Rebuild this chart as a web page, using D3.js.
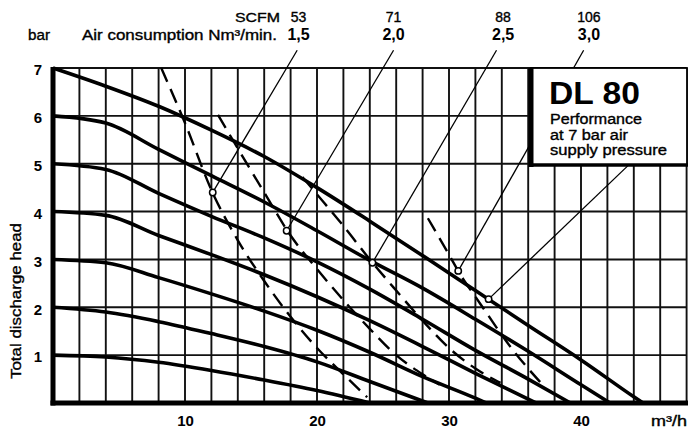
<!DOCTYPE html>
<html>
<head>
<meta charset="utf-8">
<script src="https://cdn.jsdelivr.net/npm/d3@7"></script>
<style>
  body { margin: 0; background: #fff; }
  svg { display: block; font-family: "Liberation Sans", Arial, Helvetica, sans-serif; }
  .med { stroke: #000; stroke-width: 0.35; }
</style>
</head>
<body>
<div id="chart"></div>
<script>
// flow steps (m3/h) the head curves are sampled on
const flowSteps = [0, 4, 8, 12, 16, 20, 24, 28, 32, 36, 40, 44];

// total discharge head (bar) per outlet pressure curve
const head1 = [1, 0.96, 0.85, 0.68, 0.48, 0.26];
const head2 = [2, 1.9, 1.7, 1.45, 1.18, 0.86, 0.45];
const head3 = [3, 2.93, 2.62, 2.28, 1.92, 1.52, 1.06, 0.55, 0.1];
const head4 = [4, 3.92, 3.5, 3.1, 2.68, 2.22, 1.72, 1.18, 0.62, 0.08];
const head5 = [5, 4.88, 4.38, 3.9, 3.45, 2.95, 2.38, 1.75, 1.1, 0.5];
const head6 = [6, 5.85, 5.3, 4.75, 4.2, 3.6, 2.98, 2.4, 1.75, 1.08, 0.38];
const head7 = [7, 6.62, 6.2, 5.7, 5.15, 4.5, 3.8, 3.08, 2.35, 1.62, 0.9, 0.13];
// flow where each curve hits zero head
const zeroFlow = [24, 28.4, 32.8, 36.6, 39.2, 42.2, 44.7];

// air consumption lines (dashed)
const air15Flow = [8.2, 10, 12, 14, 16, 18, 20, 22, 23.8];
const air15Head = [7.0, 5.85, 4.45, 3.4, 2.55, 1.8, 1.15, 0.6, 0.12];
const air20Flow = [12.5, 14, 16, 18, 20, 22, 24, 26, 28, 29.3];
const air20Head = [6.02, 5.32, 4.4, 3.5, 2.8, 2.15, 1.55, 1.0, 0.6, 0.38];
const air25Flow = [18.9, 20, 22, 24, 26, 28, 30, 32, 33.9];
const air25Head = [4.72, 4.36, 3.7, 3.0, 2.35, 1.72, 1.15, 0.72, 0.42];
const air30Flow = [28.4, 30, 31, 32, 33, 34, 35, 36, 36.9];
const air30Head = [3.86, 3.1, 2.62, 2.22, 1.82, 1.42, 1.05, 0.72, 0.44];

const airNm3 = ["1,5", "2,0", "2,5", "3,0"];
const airScfm = ["53", "71", "88", "106"];
const labelFlow = [18.6, 25.8, 34.1, 40.6];
// marker circles on the air lines and top of their leader lines
const markFlow = [12.1, 17.7, 24.2, 30.7];
const markHead = [4.4, 3.6, 2.93, 2.76];
const leaderFlow = [18.5, 25.8, 33.6, 40.2];
const leaderHead = 7.37;
// marker on the 7 bar curve, leader to the DL 80 box
const boxMark = [33, 2.17];
const boxLeader = [43.6, 4.97];

const yTicks = [1, 2, 3, 4, 5, 6, 7];
const xTicks = [10, 20, 30, 40];

const width = 688, height = 431;
const svg = d3.select("#chart").append("svg")
  .attr("width", width).attr("height", height);

const x = d3.scaleLinear().domain([0, 48]).range([53, 686.6]);
const y = d3.scaleLinear().domain([0, 7]).range([403, 68]);

// grid
svg.append("g").selectAll("line")
  .data(d3.range(2, 49, 2))
  .join("line")
    .attr("x1", d => x(d)).attr("x2", d => x(d))
    .attr("y1", y(7)).attr("y2", y(0))
    .attr("stroke", "#111").attr("stroke-width", 1.9);
svg.append("g").selectAll("line")
  .data(yTicks)
  .join("line")
    .attr("x1", x(0)).attr("x2", x(48))
    .attr("y1", d => y(d)).attr("y2", d => y(d))
    .attr("stroke", "#111").attr("stroke-width", 1.9);

// axes lines
svg.append("line").attr("x1", x(0)).attr("x2", x(0)).attr("y1", y(7) - 1).attr("y2", y(0) + 2.5)
  .attr("stroke", "#000").attr("stroke-width", 5);
svg.append("line").attr("x1", x(0) - 2.5).attr("x2", width).attr("y1", y(0)).attr("y2", y(0))
  .attr("stroke", "#000").attr("stroke-width", 5);

const yAxis = svg.append("g").attr("transform", `translate(${x(0)},0)`)
  .call(d3.axisLeft(y).tickValues(yTicks).tickFormat(d3.format("d")).tickSize(0).tickPadding(11));
yAxis.select(".domain").remove();
yAxis.selectAll("text").attr("font-size", 15).attr("font-weight", "bold")
  .attr("font-family", null).attr("dy", "0.45em").attr("fill", "#000");

const xAxis = svg.append("g").attr("transform", `translate(0,${y(0)})`)
  .call(d3.axisBottom(x).tickValues(xTicks).tickFormat(d3.format("d")).tickSize(0).tickPadding(12));
xAxis.select(".domain").remove();
xAxis.selectAll("text").attr("font-size", 15).attr("font-weight", "bold")
  .attr("font-family", null).attr("fill", "#000");

// head curves
const line = d3.line().x(d => x(d[0])).y(d => y(d[1])).curve(d3.curveMonotoneX);
const heads = [head1, head2, head3, head4, head5, head6, head7];
heads.forEach((h, i) => {
  const pts = h.map((v, j) => [flowSteps[j], v]);
  pts.push([zeroFlow[i], 0]);
  svg.append("path").attr("d", line(pts))
    .attr("fill", "none").attr("stroke", "#000").attr("stroke-width", 3.6);
});

// air consumption lines
const airFlows = [air15Flow, air20Flow, air25Flow, air30Flow];
const airHeads = [air15Head, air20Head, air25Head, air30Head];
airFlows.forEach((f, i) => {
  const pts = f.map((v, j) => [v, airHeads[i][j]]);
  svg.append("path").attr("d", line(pts))
    .attr("fill", "none").attr("stroke", "#000").attr("stroke-width", 2.4)
    .attr("stroke-dasharray", "15,8");
});

// leader lines
markFlow.forEach((f, i) => {
  svg.append("line")
    .attr("x1", x(leaderFlow[i])).attr("y1", y(leaderHead))
    .attr("x2", x(f)).attr("y2", y(markHead[i]))
    .attr("stroke", "#000").attr("stroke-width", 1.3);
});
svg.append("line")
  .attr("x1", x(boxLeader[0])).attr("y1", y(boxLeader[1]))
  .attr("x2", x(boxMark[0])).attr("y2", y(boxMark[1]))
  .attr("stroke", "#000").attr("stroke-width", 1.3);

// marker circles
const marks = markFlow.map((f, i) => [f, markHead[i]]).concat([boxMark]);
svg.append("g").selectAll("circle")
  .data(marks)
  .join("circle")
    .attr("cx", d => x(d[0])).attr("cy", d => y(d[1])).attr("r", 3.2)
    .attr("fill", "#fff").attr("stroke", "#000").attr("stroke-width", 1.5);

// DL 80 box
const bx0 = 531, bx1 = 687, by0 = y(7), by1 = 165;
svg.append("rect").attr("x", bx0).attr("y", by0).attr("width", bx1 - bx0).attr("height", by1 - by0)
  .attr("fill", "#fff").attr("stroke", "#000").attr("stroke-width", 1.8);
svg.append("line").attr("x1", bx0).attr("x2", bx0).attr("y1", by0).attr("y2", by1 + 2)
  .attr("stroke", "#000").attr("stroke-width", 5);
svg.append("line").attr("x1", bx0).attr("x2", bx1 + 1).attr("y1", by1).attr("y2", by1)
  .attr("stroke", "#000").attr("stroke-width", 3.5);

function txt(s, tx, ty, opts) {
  const t = svg.append("text").attr("x", tx).attr("y", ty).text(s)
    .attr("font-size", opts.size).attr("fill", "#000");
  if (opts.bold) t.attr("font-weight", "bold");
  if (opts.med) t.attr("class", "med");
  if (opts.len) t.attr("textLength", opts.len).attr("lengthAdjust", "spacingAndGlyphs");
  if (opts.anchor) t.attr("text-anchor", opts.anchor);
  return t;
}

txt("DL 80", 549, 104, { size: 31, bold: true, len: 91 });
txt("Performance", 550, 124, { size: 14, med: true, len: 92 });
txt("at 7 bar air", 550, 139.5, { size: 14, med: true, len: 78 });
txt("supply pressure", 550, 155, { size: 14, med: true, len: 117 });

// header labels
txt("bar", 28, 40, { size: 14, med: true, len: 22 });
txt("SCFM", 235, 22, { size: 13.5, med: true, len: 45 });
txt("Air consumption Nm³/min.", 82, 40, { size: 14, med: true, len: 195 });
labelFlow.forEach((f, i) => {
  txt(airScfm[i], x(f), 22, { size: 14, med: true, anchor: "middle" });
  txt(airNm3[i], x(f), 40, { size: 16, bold: true, anchor: "middle" });
});

txt("m³/h", 651, 426, { size: 14, med: true, len: 36 });

svg.append("text")
  .attr("transform", "translate(21,301) rotate(-90)")
  .attr("text-anchor", "middle")
  .attr("font-size", 15).attr("class", "med")
  .attr("textLength", 156).attr("lengthAdjust", "spacingAndGlyphs")
  .text("Total discharge head");
</script>
</body>
</html>
